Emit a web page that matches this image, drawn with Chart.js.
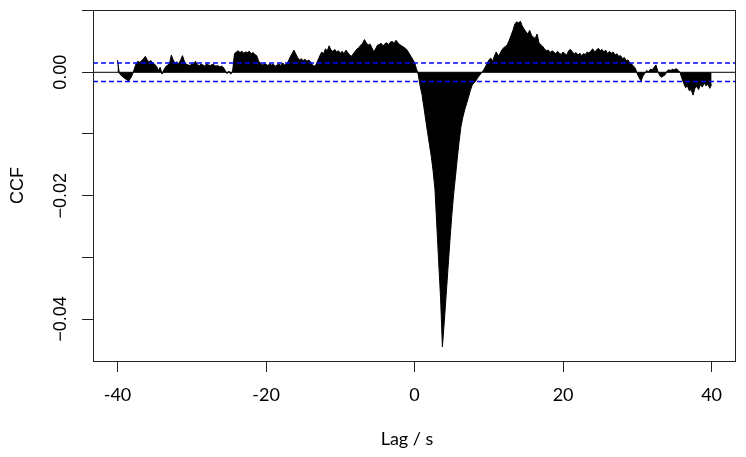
<!DOCTYPE html>
<html>
<head>
<meta charset="utf-8">
<title>CCF</title>
<script src="https://cdn.jsdelivr.net/npm/chart.js@4.4.1/dist/chart.umd.min.js"></script>
<style>
  html, body { margin: 0; padding: 0; background: #fff; }
  canvas { display: block; }
</style>
</head>
<body>
<canvas id="ccfChart" width="746" height="457"></canvas>
<script>
'use strict';

// lags run from -40 s to 40 s in 0.25 s steps
let lagStart = -40;
let lagStep = 0.25;

// ccf at each lag
let ccfValues = [
  0.0020, -0.0002, -0.0005, -0.0008, -0.0010, -0.0012, -0.0014, -0.0010,
  -0.0004, 0.0005, 0.0014, 0.0018, 0.0016, 0.0019, 0.0022, 0.0026,
  0.0020, 0.0017, 0.0019, 0.0015, 0.0013, 0.0010, 0.0003, 0.0008,
  -0.0003, 0.0004, 0.0009, 0.0012, 0.0014, 0.0028, 0.0020, 0.0015,
  0.0017, 0.0014, 0.0020, 0.0027, 0.0018, 0.0013, 0.0012, 0.0011,
  0.0014, 0.0013, 0.0018, 0.0012, 0.0011, 0.0013, 0.0012, 0.0010,
  0.0014, 0.0012, 0.0011, 0.0013, 0.0012, 0.0010, 0.0011, 0.0009,
  0.0010, 0.0008, 0.0003, -0.0002, 0.0002, -0.0003, 0.0002, 0.0030,
  0.0033, 0.0035, 0.0032, 0.0034, 0.0031, 0.0033, 0.0032, 0.0034,
  0.0030, 0.0032, 0.0029, 0.0027, 0.0018, 0.0015, 0.0012, 0.0014,
  0.0013, 0.0011, 0.0014, 0.0012, 0.0013, 0.0010, 0.0012, 0.0014,
  0.0011, 0.0015, 0.0012, 0.0013, 0.0018, 0.0025, 0.0030, 0.0036,
  0.0030, 0.0024, 0.0020, 0.0022, 0.0019, 0.0021, 0.0018, 0.0020,
  0.0017, 0.0012, 0.0010, 0.0013, 0.0020, 0.0027, 0.0033, 0.0030,
  0.0038, 0.0035, 0.0043, 0.0036, 0.0034, 0.0037, 0.0033, 0.0035,
  0.0031, 0.0034, 0.0030, 0.0036, 0.0032, 0.0028, 0.0026, 0.0030,
  0.0034, 0.0038, 0.0040, 0.0044, 0.0047, 0.0053, 0.0048, 0.0044,
  0.0046, 0.0040, 0.0033, 0.0038, 0.0044, 0.0045, 0.0047, 0.0043,
  0.0046, 0.0048, 0.0045, 0.0049, 0.0050, 0.0047, 0.0052, 0.0048,
  0.0045, 0.0043, 0.0041, 0.0039, 0.0036, 0.0031, 0.0026, 0.0021,
  0.0016, 0.0006, -0.0004, -0.0022, -0.0036, -0.0056, -0.0077, -0.0097,
  -0.0117, -0.0136, -0.0160, -0.0190, -0.0249, -0.0308, -0.0365, -0.0445,
  -0.0405, -0.0362, -0.0318, -0.0275, -0.0234, -0.0199, -0.0170, -0.0140,
  -0.0112, -0.0088, -0.0073, -0.0061, -0.0051, -0.0041, -0.0030, -0.0021,
  -0.0017, -0.0014, -0.0009, -0.0005, -0.0001, 0.0003, 0.0008, 0.0014,
  0.0020, 0.0023, 0.0018, 0.0026, 0.0033, 0.0027, 0.0030, 0.0036,
  0.0040, 0.0042, 0.0045, 0.0052, 0.0060, 0.0068, 0.0078, 0.0082,
  0.0080, 0.0083, 0.0075, 0.0070, 0.0066, 0.0062, 0.0068, 0.0060,
  0.0057, 0.0055, 0.0062, 0.0048, 0.0045, 0.0042, 0.0038, 0.0035,
  0.0036, 0.0032, 0.0035, 0.0033, 0.0030, 0.0034, 0.0031, 0.0029,
  0.0033, 0.0030, 0.0028, 0.0035, 0.0037, 0.0033, 0.0030, 0.0032,
  0.0028, 0.0031, 0.0027, 0.0030, 0.0029, 0.0033, 0.0031, 0.0035,
  0.0038, 0.0033, 0.0036, 0.0039, 0.0035, 0.0037, 0.0033, 0.0036,
  0.0030, 0.0034, 0.0031, 0.0033, 0.0028, 0.0030, 0.0026, 0.0027,
  0.0022, 0.0024, 0.0019, 0.0020, 0.0015, 0.0013, 0.0010, 0.0006,
  -0.0003, -0.0009, -0.0014, -0.0006, -0.0002, 0.0003, 0.0001, 0.0005,
  0.0004, 0.0008, 0.0012, 0.0002, -0.0005, -0.0008, -0.0006, -0.0004,
  0.0002, 0.0004, 0.0003, 0.0005, 0.0004, 0.0006, 0.0003, 0.0000,
  -0.0010, -0.0018, -0.0025, -0.0022, -0.0030, -0.0028, -0.0037, -0.0026,
  -0.0023, -0.0028, -0.0020, -0.0024, -0.0017, -0.0022, -0.0019, -0.0026,
  -0.0020
];

// significance band drawn as blue dashed lines
let ciLevel = 0.0015;

let xTickValues = [-40, -20, 0, 20, 40];
let xTickLabels = ['-40', '-20', '0', '20', '40'];
let yTickValues = [0.01, 0, -0.01, -0.02, -0.03, -0.04];
let yTickLabels = ['', '0.00', '', '\u22120.02', '', '\u22120.04'];
let xAxisTitle = 'Lag / s';
let yAxisTitle = 'CCF';
let xRange = [-43.3, 43.15];
let yRange = [-0.0468, 0.0101];

// build points for the library
let ccfPoints = [];
for (let i = 0; i < ccfValues.length; i++) {
  ccfPoints.push({ x: lagStart + i * lagStep, y: ccfValues[i] });
}

function flatLine(level) {
  return [{ x: xRange[0], y: level }, { x: xRange[1], y: level }];
}

// frame box, tick labels and axis titles (R style)
let boxAndLabels = {
  id: 'boxAndLabels',
  afterDraw(chart) {
    let ctx = chart.ctx;
    let area = chart.chartArea;
    let xScale = chart.scales.x;
    let yScale = chart.scales.y;
    ctx.save();
    ctx.strokeStyle = '#222';
    ctx.lineWidth = 1;
    ctx.strokeRect(Math.round(area.left) + 0.5, Math.round(area.top) + 0.5,
      Math.round(area.right - area.left), Math.round(area.bottom - area.top));

    ctx.fillStyle = '#000';
    ctx.textAlign = 'center';
    ctx.textBaseline = 'middle';
    ctx.font = '18px Lato, "Open Sans", sans-serif';
    for (let i = 0; i < xTickValues.length; i++) {
      ctx.fillText(xTickLabels[i], xScale.getPixelForValue(xTickValues[i]), area.bottom + 34);
    }
    ctx.fillText(xAxisTitle, (area.left + area.right) / 2 - 7, area.bottom + 78);

    ctx.font = '18px "Liberation Sans", Arial, sans-serif';
    for (let i = 0; i < yTickValues.length; i++) {
      if (!yTickLabels[i]) continue;
      ctx.save();
      ctx.translate(area.left - 32, yScale.getPixelForValue(yTickValues[i]));
      ctx.rotate(-Math.PI / 2);
      ctx.fillText(yTickLabels[i], 0, 0);
      ctx.restore();
    }
    ctx.save();
    ctx.translate(area.left - 75, (area.top + area.bottom) / 2);
    ctx.rotate(-Math.PI / 2);
    ctx.fillText(yAxisTitle, 0, 0);
    ctx.restore();
    ctx.restore();
  }
};

const ctx = document.getElementById('ccfChart').getContext('2d');

let ccfChart = new Chart(ctx, {
  type: 'line',
  data: {
    datasets: [
      {
        label: 'upper',
        data: flatLine(ciLevel),
        borderColor: '#0000ff',
        borderWidth: 1.4,
        borderDash: [5, 3],
        pointRadius: 0,
        fill: false,
        order: 0
      },
      {
        label: 'lower',
        data: flatLine(-ciLevel),
        borderColor: '#0000ff',
        borderWidth: 1.4,
        borderDash: [5, 3],
        pointRadius: 0,
        fill: false,
        order: 0
      },
      {
        label: 'zero',
        data: flatLine(0),
        borderColor: '#000',
        borderWidth: 1,
        pointRadius: 0,
        fill: false,
        order: 1
      },
      {
        label: 'CCF',
        data: ccfPoints,
        borderColor: '#000',
        backgroundColor: '#000',
        borderWidth: 1,
        pointRadius: 0,
        tension: 0,
        fill: 'origin',
        order: 2
      }
    ]
  },
  options: {
    responsive: false,
    devicePixelRatio: 1,
    animation: false,
    layout: { padding: { top: 10, right: 11, left: 0, bottom: 0 } },
    plugins: {
      legend: { display: false },
      tooltip: { enabled: false }
    },
    scales: {
      x: {
        type: 'linear',
        min: xRange[0],
        max: xRange[1],
        afterBuildTicks: function (scale) {
          scale.ticks = xTickValues.map(v => ({ value: v }));
        },
        afterFit: function (scale) {
          scale.height = 96;
        },
        ticks: { display: false },
        grid: { drawOnChartArea: false, drawTicks: true, tickLength: 11, color: '#222', lineWidth: 1 },
        border: { display: false }
      },
      y: {
        type: 'linear',
        min: yRange[0],
        max: yRange[1],
        afterBuildTicks: function (scale) {
          scale.ticks = yTickValues.map(v => ({ value: v }));
        },
        afterFit: function (scale) {
          scale.width = 93;
        },
        ticks: { display: false },
        grid: { drawOnChartArea: false, drawTicks: true, tickLength: 11, color: '#222', lineWidth: 1 },
        border: { display: false }
      }
    }
  },
  plugins: [boxAndLabels]
});
</script>
</body>
</html>
